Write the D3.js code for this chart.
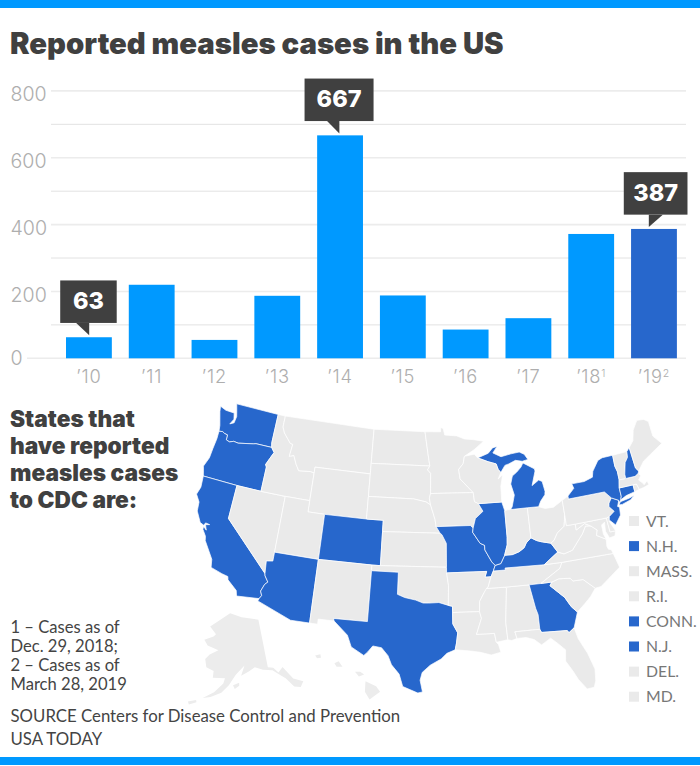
<!DOCTYPE html>
<html><head><meta charset="utf-8">
<script src="https://cdn.jsdelivr.net/npm/d3@7"></script>
<style>html,body{margin:0;padding:0;background:#fff}svg{display:block}</style>
</head><body><svg id="c" width="700" height="766"></svg>
<script>
const years=["’10","’11","’12","’13","’14","’15","’16","’17","’18","’19"];
const yearNotes=["","","","","","","","","1","2"];
const cases=[63,220,55,187,667,188,86,120,372,387];
const callouts=["’10","’14","’19"];
const yTicks=[0,200,400,600,800];
const yMinor=[100,300,500,700];
const reported=["WA","OR","CA","AZ","CO","TX","MO","IL","MI","MIU","KY","GA","NY","LI","NH","CT","NJ"];
const legendNames=["VT.","N.H.","MASS.","R.I.","CONN.","N.J.","DEL.","MD."];
const legendOn=[false,true,false,false,true,true,false,false];
const headLines=["States that","have reported","measles cases","to CDC are:"];
const noteLines=["1 – Cases as of","Dec. 29, 2018;","2 – Cases as of","March 28, 2019"];
const sourceLines=["SOURCE Centers for Disease Control and Prevention","USA TODAY"];
const states={
WA:[[-122.76,49],[-117.03,49],[-117.04,46.42],[-116.92,46],[-118.98,46],[-119.3,45.93],[-121.2,45.65],[-121.8,45.7],[-122.3,45.55],[-122.76,45.65],[-122.8,46.1],[-123.2,46.15],[-123.5,46.26],[-123.97,46.2],[-124.07,46.7],[-124.2,47],[-124.6,47.9],[-124.73,48.38],[-123.9,48.17],[-123.1,48.15],[-122.75,48.15],[-122.55,47.6],[-122.9,47.1],[-122.4,47.3],[-122.3,47.9],[-122.5,48.4]],
OR:[[-123.97,46.2],[-123.5,46.26],[-123.2,46.15],[-122.8,46.1],[-122.76,45.65],[-122.3,45.55],[-121.8,45.7],[-121.2,45.65],[-119.3,45.93],[-118.98,46],[-116.92,46],[-116.48,45.6],[-116.85,45],[-117.2,44.4],[-117.03,44.2],[-117.03,42],[-120,42],[-124.21,42],[-124.4,42.5],[-124.55,42.84],[-124.15,43.7],[-124.07,44.6],[-123.95,45.5]],
CA:[[-124.21,42],[-120,42],[-120,39],[-114.63,35],[-114.57,34.8],[-114.14,34.3],[-114.43,34.05],[-114.72,33.4],[-114.52,33.03],[-114.72,32.72],[-117.12,32.53],[-117.28,33],[-118.4,33.75],[-118.5,34.03],[-119.2,34.15],[-120.5,34.45],[-120.65,35.15],[-121.9,36.6],[-122,36.96],[-122.5,37.5],[-122.5,37.75],[-122.1,37.5],[-122.35,37.95],[-121.9,38.05],[-122.4,38.1],[-122.52,37.85],[-123,38],[-123.7,38.9],[-123.8,39.7],[-124.35,40.3],[-124.1,41]],
NV:[[-120,42],[-117.03,42],[-114.04,42],[-114.04,37],[-114.04,36.2],[-114.75,36.1],[-114.63,35],[-120,39]],
ID:[[-117.03,49],[-116.05,49],[-116.05,48],[-115.7,47.5],[-114.7,46.7],[-114.35,46.65],[-114.5,45.55],[-113.95,45.7],[-113.45,44.95],[-113,44.45],[-111.5,44.55],[-111.05,44.48],[-111.05,42],[-114.04,42],[-117.03,42],[-117.03,44.2],[-117.2,44.4],[-116.85,45],[-116.48,45.6],[-116.92,46],[-117.04,46.42]],
MT:[[-116.05,49],[-104.05,49],[-104.05,45.94],[-104.05,45],[-111.05,45],[-111.05,44.48],[-111.5,44.55],[-113,44.45],[-113.45,44.95],[-113.95,45.7],[-114.5,45.55],[-114.35,46.65],[-114.7,46.7],[-115.7,47.5],[-116.05,48]],
WY:[[-111.05,45],[-104.05,45],[-104.05,43],[-104.05,41],[-109.05,41],[-111.05,41],[-111.05,42],[-111.05,44.48]],
UT:[[-114.04,42],[-111.05,42],[-111.05,41],[-109.05,41],[-109.05,37],[-114.04,37]],
CO:[[-109.05,41],[-104.05,41],[-102.05,41],[-102.05,40],[-102.05,37],[-103,37],[-109.05,37]],
AZ:[[-114.04,37],[-109.05,37],[-109.05,31.33],[-111.07,31.33],[-114.81,32.5],[-114.72,32.72],[-114.52,33.03],[-114.72,33.4],[-114.43,34.05],[-114.14,34.3],[-114.57,34.8],[-114.63,35],[-114.75,36.1],[-114.04,36.2]],
NM:[[-109.05,37],[-103,37],[-103,36.5],[-103.04,32],[-106.62,32],[-106.53,31.78],[-108.21,31.78],[-108.21,31.33],[-109.05,31.33]],
ND:[[-104.05,49],[-97.23,49],[-96.8,47],[-96.56,45.94],[-104.05,45.94]],
SD:[[-104.05,45.94],[-96.56,45.94],[-96.85,45.6],[-96.45,45.3],[-96.45,43.5],[-96.6,43.1],[-96.44,42.49],[-97,42.76],[-98.5,43],[-104.05,43]],
NE:[[-104.05,43],[-98.5,43],[-97,42.76],[-96.44,42.49],[-96.1,41.7],[-95.9,41.2],[-95.77,40.58],[-95.31,40],[-102.05,40],[-102.05,41],[-104.05,41]],
KS:[[-102.05,40],[-95.31,40],[-95.1,39.87],[-94.6,39.1],[-94.62,37],[-102.05,37]],
OK:[[-103,37],[-102.05,37],[-94.62,37],[-94.62,36.5],[-94.43,35.4],[-94.48,33.64],[-95.5,33.9],[-96.6,33.85],[-97.2,33.85],[-98,34.1],[-99.2,34.3],[-100,34.56],[-100,36.5],[-103,36.5]],
TX:[[-106.62,32],[-103.04,32],[-103,36.5],[-100,36.5],[-100,34.56],[-99.2,34.3],[-98,34.1],[-97.2,33.85],[-96.6,33.85],[-95.5,33.9],[-94.48,33.64],[-94.04,33.55],[-94.04,33],[-94.04,32],[-93.55,31.2],[-93.7,30.3],[-93.85,29.7],[-94.7,29.4],[-95.3,28.9],[-96.4,28.35],[-97.2,27.7],[-97.4,27],[-97.15,25.96],[-97.6,25.85],[-99.1,26.4],[-99.5,27.5],[-100.3,28.3],[-100.7,29.1],[-101.4,29.77],[-102.3,29.88],[-102.8,29.3],[-103.15,28.98],[-104.5,29.65],[-105,30.65],[-106.53,31.78]],
MN:[[-97.23,49],[-95.15,49],[-95.15,49.38],[-94.8,49.3],[-94.6,48.7],[-93,48.6],[-92,48.3],[-90.8,48.2],[-89.5,48],[-90.8,47.3],[-92.1,46.75],[-92.3,46.1],[-92.9,45.6],[-92.75,44.75],[-91.2,43.5],[-96.45,43.5],[-96.45,45.3],[-96.85,45.6],[-96.56,45.94],[-96.8,47]],
IA:[[-96.45,43.5],[-91.2,43.5],[-91.1,42.7],[-90.64,42.5],[-90.15,41.8],[-91.1,41.2],[-91.42,40.38],[-91.73,40.61],[-95.77,40.58],[-95.9,41.2],[-96.1,41.7],[-96.44,42.49],[-96.6,43.1]],
MO:[[-95.77,40.58],[-91.73,40.61],[-91.42,40.38],[-91.5,40],[-90.7,39],[-90.2,38.8],[-90.2,38.4],[-89.5,37.3],[-89.15,36.98],[-89.4,36.5],[-89.7,36],[-90.37,36],[-90.15,36.5],[-94.62,36.5],[-94.62,37],[-94.6,39.1],[-95.1,39.87],[-95.31,40]],
AR:[[-94.62,36.5],[-90.15,36.5],[-90.37,36],[-89.7,36],[-90.1,35.1],[-90.6,34.6],[-91.1,33.9],[-91.17,33],[-94.04,33],[-94.04,33.55],[-94.48,33.64],[-94.43,35.4]],
LA:[[-94.04,33],[-91.17,33],[-91,32.4],[-91.6,31],[-89.73,31],[-89.6,30.2],[-89.4,30],[-89.2,29.3],[-90.2,29.1],[-91.3,29.4],[-92.3,29.55],[-93.85,29.7],[-93.7,30.3],[-93.55,31.2],[-94.04,32]],
MS:[[-90.3,35],[-88.2,35],[-88.1,34.9],[-88.47,31.9],[-88.4,30.35],[-89.6,30.2],[-89.73,31],[-91.6,31],[-91,32.4],[-91.17,33],[-91.1,33.9],[-90.6,34.6]],
AL:[[-88.2,35],[-85.6,35],[-85.18,32.87],[-85,32.3],[-85,31],[-87.6,31],[-87.45,30.4],[-88,30.25],[-88.4,30.35],[-88.47,31.9],[-88.1,34.9]],
TN:[[-89.4,36.5],[-88.05,36.5],[-88.07,36.68],[-83.68,36.6],[-81.68,36.59],[-82,36.1],[-84.3,35],[-85.6,35],[-88.2,35],[-90.3,35],[-90.1,35.1],[-89.7,36]],
KY:[[-89.4,36.5],[-89.15,36.98],[-88.5,37.1],[-88,37.8],[-87.1,37.8],[-86.3,38],[-85.7,38.3],[-85.4,38.7],[-84.8,39.1],[-84.2,38.8],[-83.7,38.65],[-82.6,38.4],[-81.97,37.54],[-83.68,36.6],[-88.07,36.68],[-88.05,36.5]],
IL:[[-90.64,42.5],[-87.8,42.5],[-87.53,41.7],[-87.53,39.35],[-87.6,38.7],[-88,37.8],[-88.5,37.1],[-89.15,36.98],[-89.5,37.3],[-90.2,38.4],[-90.2,38.8],[-90.7,39],[-91.5,40],[-91.42,40.38],[-91.1,41.2],[-90.15,41.8]],
IN:[[-87.53,41.7],[-87.2,41.76],[-86.82,41.76],[-84.8,41.76],[-84.8,39.1],[-85.4,38.7],[-85.7,38.3],[-86.3,38],[-87.1,37.8],[-88,37.8],[-87.6,38.7],[-87.53,39.35]],
OH:[[-84.8,41.76],[-83.45,41.73],[-82.7,41.5],[-81.7,41.5],[-80.52,41.98],[-80.52,40.64],[-80.8,39.7],[-81.7,39.2],[-82.2,38.6],[-82.6,38.4],[-83.7,38.65],[-84.2,38.8],[-84.8,39.1]],
MI:[[-86.82,41.76],[-84.8,41.76],[-83.45,41.73],[-83.1,42.2],[-82.5,42.7],[-82.42,43],[-82.6,43.9],[-83,44.07],[-83.9,43.65],[-83.3,44.9],[-83.35,45.1],[-84.7,45.75],[-85,45.4],[-85.6,45],[-86.2,44.7],[-86.5,44],[-86.2,43],[-86.6,42]],
MIU:[[-90.4,46.55],[-89,46.9],[-88.4,47.35],[-87.8,47.45],[-88.4,46.9],[-87.4,46.5],[-86.1,46.67],[-85,46.75],[-84.4,46.5],[-84,46],[-84.75,45.9],[-85.6,46.05],[-86.5,45.8],[-87,45.7],[-87.6,45.1],[-87.9,45.4],[-88.1,45.9],[-89.1,46.15]],
WI:[[-92.1,46.75],[-90.8,46.9],[-90.4,46.55],[-89.1,46.15],[-88.1,45.9],[-87.9,45.4],[-87.6,45.1],[-88,44.55],[-87.4,44.9],[-87.75,43.9],[-87.8,42.5],[-90.64,42.5],[-91.1,42.7],[-91.2,43.5],[-92.75,44.75],[-92.9,45.6],[-92.3,46.1]],
GA:[[-85.6,35],[-84.3,35],[-83.1,35],[-83.35,34.7],[-81.95,33.5],[-81.4,32.6],[-80.85,32.05],[-81.45,30.72],[-82.05,30.36],[-82.2,30.57],[-84.86,30.7],[-85,31],[-85,32.3],[-85.18,32.87]],
FL:[[-87.6,31],[-85,31],[-84.86,30.7],[-82.2,30.57],[-82.05,30.36],[-81.45,30.72],[-81.2,29.7],[-80.5,28.3],[-80.03,26.8],[-80.15,25.75],[-80.4,25.2],[-81.1,25.15],[-81.8,26.1],[-82.2,26.9],[-82.8,27.9],[-82.65,28.9],[-83.4,29.6],[-84,30.1],[-85,29.6],[-85.7,30.15],[-86.5,30.4],[-87.45,30.4]],
SC:[[-83.1,35],[-82.3,35.2],[-81.05,35.1],[-80.8,34.82],[-79.68,34.8],[-78.55,33.86],[-79.2,33.2],[-79.9,32.7],[-80.85,32.05],[-81.4,32.6],[-81.95,33.5],[-83.35,34.7]],
NC:[[-84.3,35],[-82,36.1],[-81.68,36.59],[-75.87,36.55],[-75.5,35.25],[-76.5,34.7],[-77.9,33.9],[-78.55,33.86],[-79.68,34.8],[-80.8,34.82],[-81.05,35.1],[-82.3,35.2],[-83.1,35]],
VA:[[-83.68,36.6],[-81.97,37.54],[-81.3,37.3],[-80.3,37.5],[-79.3,38.4],[-78.87,38.76],[-78.35,39.4],[-77.75,39.32],[-77.1,38.85],[-77.3,38.4],[-76.3,37.9],[-76.4,37.3],[-76.3,37],[-75.98,36.9],[-75.87,36.55],[-81.68,36.59]],
WV:[[-82.6,38.4],[-82.2,38.6],[-81.7,39.2],[-80.8,39.7],[-80.52,40.64],[-80.52,39.72],[-79.48,39.72],[-79.48,39.2],[-78.4,39.62],[-77.75,39.32],[-78.35,39.4],[-78.87,38.76],[-79.3,38.4],[-80.3,37.5],[-81.3,37.3],[-81.97,37.54]],
MD:[[-79.48,39.72],[-75.79,39.72],[-75.7,38.46],[-75.05,38.45],[-75.25,38.03],[-75.9,37.95],[-76.2,38.6],[-76.1,39.4],[-76.5,39.2],[-76.5,38.4],[-76.3,37.9],[-77.3,38.4],[-77.1,38.85],[-77.75,39.32],[-78.4,39.62],[-79.48,39.2]],
DE:[[-75.79,39.72],[-75.4,39.8],[-75.55,39.4],[-75.05,38.45],[-75.7,38.46]],
PA:[[-80.52,41.98],[-79.76,42.27],[-79.76,42],[-75.35,42],[-74.7,41.36],[-75.1,40.95],[-75.2,40.65],[-74.72,40.15],[-75.4,39.8],[-75.79,39.72],[-79.48,39.72],[-80.52,39.72],[-80.52,40.64]],
NJ:[[-74.7,41.36],[-73.9,41],[-74.2,40.5],[-74,40.4],[-74.1,39.7],[-74.9,38.95],[-75.5,39.5],[-75.4,39.8],[-74.72,40.15],[-75.2,40.65],[-75.1,40.95]],
NY:[[-79.76,42],[-79.76,42.27],[-78.9,42.85],[-79.05,43.27],[-77.5,43.27],[-76.4,43.5],[-76.2,44],[-75.3,44.85],[-74.7,45],[-73.35,45],[-73.4,44],[-73.25,43.5],[-73.28,42.75],[-73.5,42.05],[-73.5,41.3],[-73.65,41],[-73.9,40.8],[-73.9,41],[-74.7,41.36],[-75.35,42]],
LI:[[-74,40.6],[-73.75,40.85],[-72.6,40.97],[-72,41.1],[-72.5,40.8],[-73.6,40.58]],
CT:[[-73.5,42.05],[-71.8,42.02],[-71.8,41.4],[-72.9,41.25],[-73.65,41],[-73.5,41.3]],
RI:[[-71.8,42.02],[-71.38,42.02],[-71.2,41.5],[-71.8,41.4]],
MA:[[-73.5,42.05],[-73.28,42.75],[-72.46,42.73],[-71.3,42.7],[-70.85,42.88],[-70.6,42.65],[-71,42.3],[-70.6,41.95],[-70.5,41.78],[-70.05,42.05],[-69.95,41.68],[-70.65,41.55],[-71.2,41.5],[-71.38,42.02],[-71.8,42.02]],
VT:[[-73.35,45],[-71.5,45.01],[-71.6,44.5],[-72.05,44.1],[-72.45,43.1],[-72.46,42.73],[-73.28,42.75],[-73.25,43.5],[-73.4,44]],
NH:[[-71.5,45.01],[-71.08,45.3],[-70.98,43.4],[-70.7,43.07],[-70.85,42.88],[-71.3,42.7],[-72.46,42.73],[-72.45,43.1],[-72.05,44.1],[-71.6,44.5]],
ME:[[-71.08,45.3],[-70.4,45.8],[-70,46.7],[-69.2,47.45],[-68.3,47.35],[-67.8,47.05],[-67.8,45.7],[-67,44.85],[-68.5,44.3],[-69.8,43.8],[-70.7,43.07],[-70.98,43.4]]
};
const alaska=[
[[-141,69.6],[-141,60.3],[-139,60],[-137.5,58.9],[-135.5,59.7],[-133,57],[-130,55.9],[-131.5,55],[-133.5,55.5],[-135.5,57.5],[-137,58.3],[-139.5,59.6],[-143,60],[-146,60.7],[-148.5,60],[-151.5,59.3],[-150,61.2],[-153.5,59.5],[-156,57.5],[-158.5,56],[-162,55],[-164.5,54.6],[-161,56],[-158,57.8],[-157.5,58.8],[-162,58.7],[-162,60],[-165,60.5],[-166,62],[-164.5,63],[-161,64],[-166,64.6],[-168,65.6],[-164,66.5],[-163,67],[-166.5,68.3],[-163,69.5],[-156.5,71.3],[-150,70.5]],
[[-154.5,57.5],[-152.3,58],[-152.3,57.4],[-153.9,56.8]],
[[-169,53.4],[-166.5,54],[-166.3,53.6],[-168.5,52.9]]
];
const hawaii=[
[[-155.9,20.25],[-155.1,19.9],[-154.8,19.5],[-155.6,18.95],[-155.95,19.5]],
[[-156.7,20.95],[-156.3,20.95],[-156,20.75],[-156.4,20.6]],
[[-158.27,21.55],[-157.95,21.7],[-157.65,21.3],[-158.1,21.3]],
[[-159.75,22.1],[-159.35,22.2],[-159.3,21.95],[-159.6,21.9]]
];

const BLUE="#2767cc",SKY="#0099ff",GREY="#eaeaea",DARK="#404040";
const svg=d3.select("#c");
svg.append("rect").attr("width",700).attr("height",8).attr("fill",SKY);
svg.append("rect").attr("y",757).attr("width",700).attr("height",8).attr("fill",SKY);
svg.append("text").text("Reported measles cases in the US").attr("x",10).attr("y",53.5)
 .attr("font-family","Inter").attr("font-weight",900).attr("font-size",29.3).attr("fill",DARK);

const y=d3.scaleLinear().domain([0,800]).range([358.3,90.9]);
const x=d3.scaleBand().domain(years).range([66,676.9]).paddingInner(0.27).paddingOuter(0);
const g=svg.append("g");
g.selectAll("line.minor").data(yMinor).join("line").attr("x1",51).attr("x2",686)
 .attr("y1",d=>y(d)).attr("y2",d=>y(d)).attr("stroke","#e2e2e2").attr("stroke-width",1);
g.selectAll("line.major").data(yTicks).join("line").attr("x1",d=>d===0?27:51).attr("x2",686)
 .attr("y1",d=>y(d)).attr("y2",d=>y(d)).attr("stroke","#ececec").attr("stroke-width",1.6);
g.selectAll("text.yt").data(yTicks).join("text").text(d=>d).attr("x",10.5).attr("y",d=>y(d)+(d===0?6.9:10.5))
 .attr("font-family","Inter").attr("font-weight",300).attr("font-size",19.6).attr("fill","#aeaeae");
g.selectAll("rect").data(years).join("rect").attr("x",d=>x(d)).attr("width",x.bandwidth())
 .attr("y",(d,i)=>y(cases[i])).attr("height",(d,i)=>y(0)-y(cases[i]))
 .attr("fill",(d,i)=>i===years.length-1?BLUE:SKY);
const xl=g.selectAll("text.xt").data(years).join("text").attr("x",d=>x(d)+x.bandwidth()/2).attr("y",383.2)
 .attr("text-anchor","middle").attr("font-family","Inter").attr("font-weight",300).attr("font-size",18.3).attr("letter-spacing",0.8).attr("fill","#aeaeae");
xl.append("tspan").text(d=>d);
xl.append("tspan").text((d,i)=>yearNotes[i]).attr("font-size",10.5).attr("dy",-6);

// callouts: box offset from the bar's centre, width, and the tip's two x offsets
const BOX={"’10":[-28.7,56.5,-12.7,0.3],"’14":[-35.5,69,-13,-0.7],"’19":[-30.2,63.7,-5.2,8.8]};
callouts.forEach(k=>{
 const i=years.indexOf(k),v=cases[i],top=y(v),cx=x(k)+x.bandwidth()/2;
 const [dx,w,t0,t1]=BOX[k],h=42.5,bt=top-56.8,left=cx+dx;
 const tipX=t1>t0&&k==="’19"?cx+t0:cx+t1;
 const gg=svg.append("g");
 gg.append("rect").attr("x",left).attr("y",bt).attr("width",w).attr("height",h).attr("fill",DARK);
 gg.append("polygon").attr("points",[[cx+t0,bt+h],[cx+t1,bt+h],[tipX,bt+h+12.4]].join(" ")).attr("fill",DARK);
 gg.append("text").text(v).attr("x",left+w/2).attr("y",bt+h/2+7.6).attr("text-anchor","middle")
  .attr("font-family","Inter").attr("font-weight",800).attr("font-size",23.5).attr("fill","#fff");
});

svg.selectAll("text.head").data(headLines).join("text").text(d=>d).attr("x",10).attr("y",(d,i)=>427+27*i)
 .attr("font-family","Inter").attr("font-weight",900).attr("font-size",22.7).attr("fill",DARK);
svg.selectAll("text.note").data(noteLines).join("text").text(d=>d).attr("x",10.5).attr("y",(d,i)=>632.7+19*i)
 .attr("font-family","Lato").attr("font-size",16.6).attr("fill","#444");
svg.selectAll("text.src").data(sourceLines).join("text").text(d=>d).attr("x",10.5).attr("y",(d,i)=>722+23*i)
 .attr("font-family","Lato").attr("font-size",16.8).attr("fill","#444");

// map
const k=645;
const main=d3.geoAlbers().scale(k).translate([429,548]);
const akP=d3.geoConicEqualArea().rotate([154,0]).center([-2,58.5]).parallels([55,65]).scale(300).translate([229,680]);
const hiP=d3.geoConicEqualArea().rotate([157,0]).center([-3,19.9]).parallels([8,18]).scale(800).translate([311.5,686]);
const ring=(p)=>d3.line().x(c=>p(c)[0]).y(c=>p(c)[1]).curve(d3.curveLinearClosed);
const m=svg.append("g");
m.selectAll("path.ak").data(alaska).join("path").attr("d",ring(akP)).attr("fill","#ececec");
m.selectAll("path.hi").data(hawaii).join("path").attr("d",ring(hiP)).attr("fill","#ececec");
const ids=Object.keys(states);
m.selectAll("path.st").data(ids).join("path").attr("d",d=>ring(main)(states[d]))
 .attr("fill",d=>reported.includes(d)?BLUE:GREY).attr("stroke","#fff").attr("stroke-width",0.7).attr("stroke-linejoin","round");

const lg=svg.selectAll("g.lg").data(legendNames).join("g").attr("transform",(d,i)=>`translate(629,${521+25.1*i})`);
lg.append("rect").attr("y",-5).attr("width",10).attr("height",10).attr("fill",(d,i)=>legendOn[i]?BLUE:GREY);
lg.append("text").text(d=>d).attr("x",17).attr("y",5.5).attr("font-family","Lato").attr("font-size",15.8).attr("fill","#777");
</script></body></html>
